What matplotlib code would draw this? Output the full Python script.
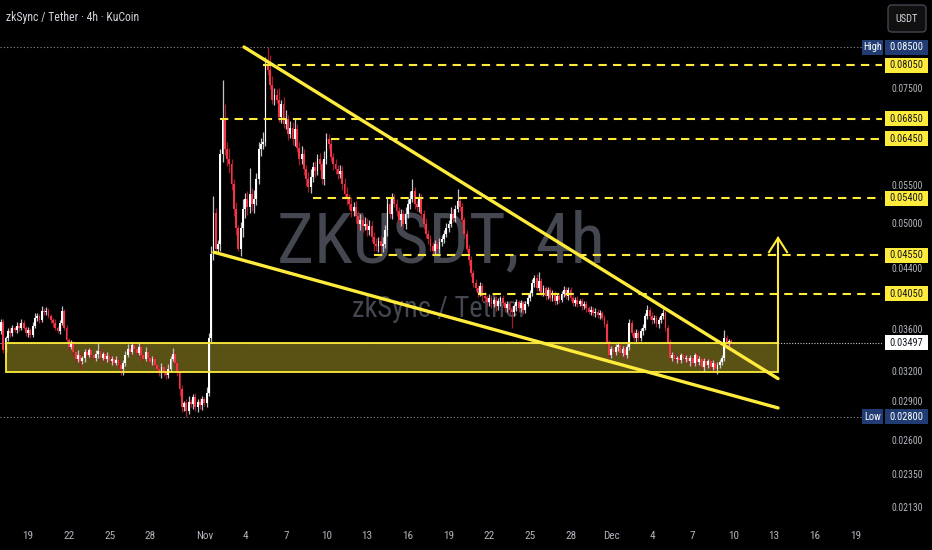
import numpy as np
import matplotlib
matplotlib.use('Agg')
import matplotlib.pyplot as plt
import matplotlib.transforms as mtransforms
from matplotlib.patches import Rectangle, FancyBboxPatch

FAMILY = ['Roboto Condensed', 'Liberation Sans Narrow', 'DejaVu Sans']
plt.rcParams['font.family'] = FAMILY

# ---------------- data: ZK/USDT 4h candles from 17 Oct (prices in 1e-4 USDT) -------------
price_unit = 1e-4
first_open = 362
closes = [
    372, 342, 355, 362, 360, 366, 363, 368, 366, 371,   # 0
    366, 360, 363, 358, 368, 377, 379, 374, 385, 383,   # 10
    385, 379, 374, 371, 366, 362, 371, 385, 366, 353,   # 20
    345, 349, 340, 333, 337, 331, 334, 340, 337, 342,   # 30
    337, 334, 338, 341, 334, 338, 333, 336, 331, 333,   # 40
    329, 332, 327, 323, 329, 337, 343, 340, 347, 343,   # 50
    339, 345, 337, 333, 340, 334, 330, 333, 327, 323,   # 60
    319, 325, 321, 317, 323, 333, 338, 329, 320, 304,   # 70
    288, 292, 285, 293, 291, 297, 288, 293, 290, 295,   # 80
    292, 301, 355, 457, 516, 464, 471, 616, 684, 625,   # 90
    607, 598, 563, 523, 493, 464, 493, 523, 539, 526,   # 100
    547, 531, 539, 572, 625, 635, 639, 805, 794, 759,   # 110
    726, 737, 726, 688, 716, 674, 684, 654, 666, 644,   # 120
    664, 628, 607, 616, 589, 572, 558, 575, 592, 586,   # 130
    607, 598, 572, 607, 644, 635, 611, 598, 589, 581,   # 140
    586, 563, 547, 539, 531, 520, 526, 511, 500, 505,   # 150
    496, 500, 490, 496, 481, 471, 467, 474, 467, 471,   # 160
    490, 531, 515, 539, 531, 520, 505, 515, 500, 515,   # 170
    531, 539, 551, 531, 526, 539, 515, 500, 485, 478,   # 180
    467, 461, 471, 464, 473, 478, 485, 493, 500, 515,   # 190
    508, 523, 536, 526, 505, 485, 464, 448, 431, 418,   # 200
    412, 406, 415, 402, 400, 395, 400, 393, 398, 390,   # 210
    396, 400, 394, 388, 393, 386, 383, 390, 395, 388,   # 220
    394, 386, 393, 400, 406, 418, 425, 412, 421, 406,   # 230
    412, 402, 410, 400, 405, 396, 402, 398, 405, 410,   # 240
    402, 410, 400, 394, 398, 393, 396, 390, 393, 388,   # 250
    384, 386, 382, 384, 380, 382, 377, 370, 350, 337,   # 260
    343, 340, 345, 347, 339, 343, 337, 345, 371, 360,   # 270
    355, 360, 355, 362, 366, 379, 386, 379, 374, 377,   # 280
    370, 374, 379, 382, 366, 350, 334, 337, 333, 334,   # 290
    332, 337, 333, 334, 331, 334, 329, 337, 330, 333,   # 300
    325, 331, 327, 331, 325, 329, 323, 327, 330, 334,   # 310
    355, 350, 352, 349.7,                               # 320
]
upper_wicks = [
    3, 4, 2, 3, 5, 3, 2, 4, 3, 5,
    3, 2, 4, 3, 4, 5, 3, 2, 6, 3,
    4, 3, 2, 3, 4, 2, 3, 6, 2, 3,
    2, 4, 3, 2, 5, 3, 2, 3, 4, 2,
    3, 2, 4, 9, 3, 2, 3, 4, 2, 3,
    3, 4, 2, 3, 3, 4, 5, 3, 4, 3,
    2, 6, 3, 2, 5, 3, 2, 3, 4, 2,
    3, 4, 2, 3, 5, 3, 6, 3, 2, 3,
    4, 2, 3, 5, 2, 3, 4, 2, 3, 3,
    2, 5, 5, 10, 28, 8, 5, 10, 86, 32,
    15, 20, 10, 8, 10, 5, 10, 15, 10, 12,
    44, 10, 15, 10, 15, 12, 20, 20, 45, 36,
    20, 15, 12, 25, 10, 15, 20, 10, 15, 12,
    20, 10, 12, 15, 10, 8, 12, 15, 10, 12,
    10, 12, 8, 15, 13, 10, 12, 8, 10, 8,
    10, 8, 10, 12, 8, 10, 8, 10, 8, 10,
    8, 10, 8, 10, 8, 6, 8, 6, 8, 10,
    8, 10, 8, 10, 8, 8, 6, 8, 6, 10,
    8, 12, 20, 8, 6, 10, 8, 6, 8, 6,
    5, 6, 5, 8, 6, 5, 6, 8, 6, 10,
    8, 6, 19, 8, 6, 5, 6, 5, 6, 4,
    5, 4, 5, 4, 5, 4, 5, 4, 3, 4,
    4, 3, 4, 3, 4, 3, 4, 3, 4, 3,
    4, 3, 4, 5, 4, 6, 4, 5, 12, 4,
    4, 3, 4, 3, 5, 3, 4, 3, 4, 5,
    3, 4, 3, 4, 3, 4, 3, 4, 3, 4,
    3, 4, 3, 4, 3, 4, 3, 3, 4, 3,
    3, 4, 3, 4, 3, 3, 4, 3, 5, 3,
    3, 4, 3, 3, 4, 3, 6, 3, 4, 3,
    3, 4, 3, 5, 3, 3, 4, 3, 3, 2,
    3, 2, 3, 3, 2, 3, 3, 2, 3, 3,
    2, 3, 3, 2, 3, 3, 2, 3, 3, 3,
    8, 3, 2, 2,
]
lower_wicks = [
    3, 3, 2, 3, 4, 3, 2, 3, 4, 3,
    2, 3, 4, 3, 2, 3, 4, 3, 2, 3,
    3, 2, 3, 4, 3, 2, 3, 2, 3, 2,
    3, 2, 4, 4, 3, 8, 3, 4, 3, 2,
    3, 2, 3, 4, 3, 2, 3, 3, 2, 4,
    3, 2, 4, 6, 6, 3, 2, 3, 2, 3,
    3, 2, 4, 3, 2, 3, 4, 3, 2, 3,
    3, 4, 5, 3, 2, 3, 2, 3, 4, 6,
    4, 3, 5, 3, 3, 4, 3, 4, 3, 4,
    3, 4, 3, 5, 8, 6, 8, 10, 15, 10,
    12, 15, 10, 12, 10, 4, 10, 12, 15, 12,
    10, 12, 14, 10, 8, 12, 10, 8, 12, 10,
    10, 12, 8, 10, 12, 8, 10, 12, 8, 10,
    12, 8, 10, 8, 10, 12, 8, 10, 8, 10,
    8, 10, 8, 10, 8, 10, 8, 10, 8, 10,
    8, 10, 8, 10, 8, 10, 8, 10, 8, 10,
    8, 6, 8, 6, 8, 10, 6, 8, 6, 8,
    6, 8, 6, 8, 6, 8, 6, 8, 6, 8,
    6, 8, 6, 8, 6, 8, 6, 8, 6, 8,
    6, 5, 6, 5, 6, 5, 6, 5, 6, 5,
    5, 6, 5, 6, 5, 6, 5, 6, 5, 4,
    4, 5, 4, 5, 4, 5, 4, 5, 4, 5,
    4, 5, 4, 5, 4, 5, 17, 4, 5, 4,
    4, 5, 4, 3, 4, 3, 4, 3, 4, 3,
    3, 4, 3, 4, 3, 4, 3, 4, 3, 4,
    3, 4, 3, 4, 3, 4, 3, 4, 3, 4,
    3, 4, 3, 4, 3, 4, 3, 3, 4, 3,
    3, 4, 3, 4, 3, 3, 4, 3, 3, 3,
    3, 4, 3, 3, 4, 3, 3, 3, 4, 3,
    3, 4, 3, 3, 4, 3, 3, 3, 3, 4,
    3, 3, 4, 3, 3, 5, 3, 3, 4, 3,
    3, 4, 3, 3, 4, 3, 3, 5, 3, 3,
    3, 3, 4, 3,
]
candles_per_day = 6
date_days = [2, 5, 8, 11, 15, 18, 21, 24, 27, 30, 33, 36, 39, 42, 45, 48, 51, 54, 57, 60, 63]
date_labels = ['19', '22', '25', '28', 'Nov', '4', '7', '10', '13', '16', '19',
               '22', '25', '28', 'Dec', '4', '7', '10', '13', '16', '19']

level_prices = [0.08050, 0.06850, 0.06450, 0.05400, 0.04550, 0.04050]
level_start = [116, 97, 146, 138, 165, 211]        # candle index where each dashed level starts
axis_prices = [0.07500, 0.05500, 0.05000, 0.04400, 0.03600, 0.03200, 0.02900,
               0.02600, 0.02350, 0.02130]
axis_label_shift = [0, -6, 0, 3, -3, 0, -3, 0, 0, 0]   # px nudges so labels clear the boxes
high_price = 0.08500
low_price = 0.02800
last_price = 0.03497
zone_low, zone_high = 0.0320, 0.0349
upper_trend_x, upper_trend_y = [107.5, 343.8], [0.0850, 0.0314]
lower_trend_x, lower_trend_y = [94.2, 343.8], [0.0459, 0.02875]
arrow_x = 343.8
target_price = 0.0479

# ---------------- figure ----------------
W, H = 932, 550
AX_R, AX_B = 882, 525
fig = plt.figure(figsize=(W / 100, H / 100), dpi=100, facecolor='black')
ax = fig.add_axes([0, (H - AX_B) / H, AX_R / W, AX_B / H])
ax.set_facecolor('black')
ax.set_yscale('log')
ax.set_ylim(0.02023, 0.09789)
ax.set_xlim(-0.45, 389.8)
for s in ax.spines.values():
    s.set_visible(False)
ax.set_xticks([])
ax.set_yticks([])
ax.set_yticks([], minor=True)

px = mtransforms.Affine2D().scale(1 / W, -1 / H).translate(0, 1) + fig.transFigure
x_px_y_data = mtransforms.blended_transform_factory(px, ax.transData)
x_data_y_px = mtransforms.blended_transform_factory(ax.transData, px)

YEL = '#ffeb3b'
GRAY = '#b2b5be'

# watermark
wm1 = ax.text(441, 262, 'ZKUSDT, 4h', transform=px, color='#44474f', fontsize=50,
              ha='center', va='baseline', zorder=0.5)
wm2 = ax.text(440, 317, 'zkSync / Tether', transform=px, color='#44474f', fontsize=20,
              ha='center', va='baseline', zorder=0.5)
renderer = fig.canvas.get_renderer()
for t, target in ((wm1, 328), (wm2, 175)):
    bb = t.get_window_extent(renderer)
    t.set_fontsize(t.get_fontsize() * target / bb.width)

# zone
ax.add_patch(Rectangle((2.2, zone_low), arrow_x - 2.2, zone_high - zone_low,
                       fc='#5a5214', ec='none', zorder=1))
ax.add_patch(Rectangle((2.2, zone_low), arrow_x - 2.2, zone_high - zone_low,
                       fill=False, ec=YEL, lw=1.3, zorder=5))

# candles
c = np.array(closes, float) * price_unit
o = np.concatenate([[first_open * price_unit], c[:-1]])
hi = np.maximum(o, c) + np.array(upper_wicks, float) * price_unit
lo = np.minimum(o, c) - np.array(lower_wicks, float) * price_unit
idx = np.arange(len(c))
up = c >= o
body_col = np.where(up, '#ffffff', '#f23645')
wick_col = np.where(up, '#c0c3ca', '#a31c2e')
ax.vlines(idx, lo, hi, colors=wick_col, lw=0.9, zorder=3)
ax.bar(idx, np.maximum(np.abs(c - o), 0.4 * price_unit), bottom=np.minimum(o, c),
       width=0.82, color=body_col, linewidth=0, zorder=4)

# dotted reference lines
for p in (high_price, low_price):
    ax.axhline(p, color='#8a8d96', lw=0.8, ls=(0, (1, 2)), zorder=2)
ax.axhline(last_price, color='#c8cad0', lw=0.8, ls=(0, (1, 1.5)), zorder=2)

# dashed levels
for p, s in zip(level_prices, level_start):
    ln, = ax.plot([s, 389.8], [p, p], color=YEL, lw=1.5, zorder=5, solid_capstyle='butt')
    ln.set_dashes([4, 3])

# wedge lines
ax.plot(upper_trend_x, upper_trend_y, color=YEL, lw=2.4, zorder=6, solid_capstyle='round')
ax.plot(lower_trend_x, lower_trend_y, color=YEL, lw=2.4, zorder=6, solid_capstyle='round')

# target arrow
ax.plot([arrow_x, arrow_x], [zone_high, target_price], color=YEL, lw=1.5, zorder=6)
ax.plot([arrow_x - 4, arrow_x, arrow_x + 4], [0.0459, target_price, 0.0459],
        color=YEL, lw=1.5, zorder=6, solid_joinstyle='miter')

# header
fig.text(6, 17, 'zkSync / Tether · 4h · KuCoin', transform=px, color='#d1d4dc',
         fontsize=8.5, ha='left', va='center')

# date labels
for d, lab in zip(date_days, date_labels):
    ax.text(d * candles_per_day, 536, lab, transform=x_data_y_px, color=GRAY,
            fontsize=8, ha='center', va='center', clip_on=False)

# price axis labels
for p, dy in zip(axis_prices, axis_label_shift):
    tr = mtransforms.offset_copy(x_px_y_data, fig=fig, x=0, y=-dy, units='dots')
    ax.text(907, p, f'{p:.5f}', transform=tr, color=GRAY, fontsize=7,
            ha='center', va='center', clip_on=False, zorder=7)

def box(x0, w, p, fc, txt, tc, ec='none'):
    k = np.exp(7.5 / 333)
    ax.add_patch(Rectangle((x0, p / k), w, p * k - p / k, transform=x_px_y_data,
                           fc=fc, ec=ec, lw=0.8, clip_on=False, zorder=8))
    ax.text(x0 + w / 2, p, txt, transform=x_px_y_data, color=tc, fontsize=7.5,
            ha='center', va='center', clip_on=False, zorder=9)

for p in level_prices:
    box(885, 43, p, YEL, f'{p:.5f}', '#131722')
NAVY = '#213c73'
box(885, 43, high_price, NAVY, f'{high_price:.5f}', '#ffffff')
box(862, 21, high_price, NAVY, 'High', '#ffffff')
box(885, 43, low_price, NAVY, f'{low_price:.5f}', '#ffffff')
box(862, 21, low_price, NAVY, 'Low', '#ffffff')
box(885, 43, last_price, '#ffffff', f'{last_price:.5f}', '#131722')

# currency button
btn = FancyBboxPatch((888, 5), 38, 27, boxstyle='round,pad=0,rounding_size=4',
                     transform=px, fc='#101010', ec='#434651', lw=1)
fig.add_artist(btn)
fig.text(907, 18.5, 'USDT', transform=px, color='#d1d4dc', fontsize=7.5,
         ha='center', va='center')

fig.savefig('out.png', dpi=100, facecolor='black')
